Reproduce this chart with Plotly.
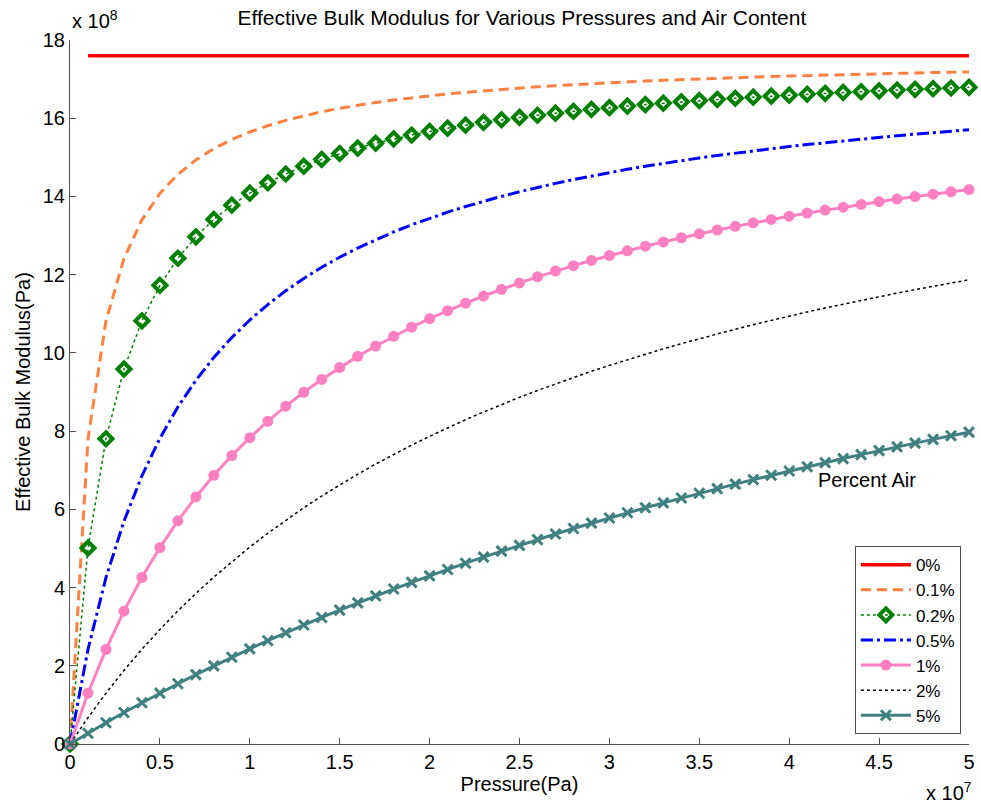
import plotly.graph_objects as go

# Pressure in units of 1e7 Pa
pressure = [0.0, 0.1, 0.2, 0.3, 0.4, 0.5, 0.6, 0.7, 0.8, 0.9,
            1.0, 1.1, 1.2, 1.3, 1.4, 1.5, 1.6, 1.7, 1.8, 1.9,
            2.0, 2.1, 2.2, 2.3, 2.4, 2.5, 2.6, 2.7, 2.8, 2.9,
            3.0, 3.1, 3.2, 3.3, 3.4, 3.5, 3.6, 3.7, 3.8, 3.9,
            4.0, 4.1, 4.2, 4.3, 4.4, 4.5, 4.6, 4.7, 4.8, 4.9, 5.0]

# Effective bulk modulus in units of 1e8 Pa
air_0 = [None] + [17.6] * 50
air_01 = [0, 7.801, 10.814, 12.411, 13.402, 14.075, 14.563, 14.933, 15.223, 15.456,
          15.648, 15.809, 15.946, 16.063, 16.165, 16.254, 16.333, 16.403, 16.467, 16.524,
          16.575, 16.622, 16.664, 16.704, 16.740, 16.774, 16.805, 16.833, 16.860, 16.885,
          16.908, 16.930, 16.951, 16.970, 16.989, 17.006, 17.023, 17.038, 17.053, 17.067,
          17.080, 17.093, 17.105, 17.117, 17.128, 17.139, 17.149, 17.158, 17.168, 17.176, 17.185]
air_02 = [0, 5.011, 7.804, 9.586, 10.820, 11.727, 12.420, 12.968, 13.412, 13.778,
          14.086, 14.349, 14.575, 14.772, 14.946, 15.099, 15.236, 15.359, 15.470, 15.571,
          15.662, 15.746, 15.823, 15.894, 15.960, 16.021, 16.077, 16.130, 16.179, 16.226,
          16.269, 16.310, 16.348, 16.384, 16.419, 16.451, 16.482, 16.511, 16.539, 16.565,
          16.590, 16.614, 16.637, 16.659, 16.680, 16.700, 16.719, 16.738, 16.756, 16.773, 16.789]
air_05 = [0, 2.417, 4.253, 5.695, 6.858, 7.815, 8.616, 9.298, 9.884, 10.393,
          10.840, 11.236, 11.588, 11.904, 12.189, 12.446, 12.681, 12.896, 13.093, 13.275,
          13.443, 13.598, 13.742, 13.877, 14.003, 14.120, 14.231, 14.334, 14.432, 14.524,
          14.612, 14.694, 14.772, 14.846, 14.917, 14.984, 15.048, 15.109, 15.167, 15.223,
          15.276, 15.327, 15.376, 15.423, 15.468, 15.511, 15.553, 15.593, 15.631, 15.668, 15.704]
air_1 = [0, 1.298, 2.419, 3.397, 4.259, 5.022, 5.705, 6.317, 6.871, 7.374,
         7.832, 8.252, 8.638, 8.993, 9.322, 9.628, 9.911, 10.176, 10.424, 10.656,
         10.874, 11.079, 11.272, 11.454, 11.626, 11.790, 11.944, 12.091, 12.231, 12.364,
         12.491, 12.611, 12.727, 12.838, 12.944, 13.045, 13.142, 13.235, 13.325, 13.411,
         13.494, 13.574, 13.651, 13.725, 13.796, 13.865, 13.932, 13.996, 14.059, 14.119, 14.177]
air_2 = [0, 0.674, 1.299, 1.880, 2.422, 2.929, 3.404, 3.850, 4.269, 4.664,
         5.037, 5.389, 5.723, 6.040, 6.340, 6.626, 6.898, 7.157, 7.405, 7.641,
         7.867, 8.083, 8.291, 8.489, 8.680, 8.863, 9.039, 9.209, 9.372, 9.529,
         9.680, 9.827, 9.968, 10.104, 10.236, 10.363, 10.486, 10.605, 10.721, 10.833,
         10.941, 11.047, 11.149, 11.248, 11.344, 11.438, 11.529, 11.618, 11.703, 11.787, 11.869]
air_5 = [0, 0.276, 0.544, 0.804, 1.056, 1.302, 1.540, 1.773, 1.998, 2.218,
         2.432, 2.641, 2.844, 3.042, 3.235, 3.424, 3.608, 3.787, 3.962, 4.133,
         4.300, 4.463, 4.623, 4.779, 4.931, 5.080, 5.226, 5.369, 5.509, 5.646,
         5.780, 5.911, 6.039, 6.165, 6.289, 6.410, 6.528, 6.644, 6.759, 6.870,
         6.980, 7.088, 7.194, 7.298, 7.399, 7.500, 7.598, 7.694, 7.789, 7.883, 7.974]

labels = ["0%", "0.1%", "0.2%", "0.5%", "1%", "2%", "5%"]
x_ticks = [0, 0.5, 1, 1.5, 2, 2.5, 3, 3.5, 4, 4.5, 5]
x_ticktext = ["0", "0.5", "1", "1.5", "2", "2.5", "3", "3.5", "4", "4.5", "5"]
y_ticks = [0, 2, 4, 6, 8, 10, 12, 14, 16, 18]

FONT = "Liberation Sans, Arial, sans-serif"
FS = 20
fig = go.Figure()

fig.add_trace(go.Scatter(x=pressure, y=air_0, name=labels[0], mode="lines",
                         line=dict(color="#FF0000", width=3.5)))
fig.add_trace(go.Scatter(x=pressure, y=air_01, name=labels[1], mode="lines",
                         line=dict(color="#FF8040", width=3, dash="10px,6px")))
fig.add_trace(go.Scatter(x=pressure, y=air_02, name=labels[2], mode="lines+markers",
                         line=dict(color="#008000", width=1.5, dash="dot"),
                         marker=dict(symbol="diamond-open", size=10, color="#008000",
                                     line=dict(width=4, color="#008000")),
                         cliponaxis=False))
fig.add_trace(go.Scatter(x=pressure, y=air_05, name=labels[3], mode="lines",
                         line=dict(color="#0000FF", width=3, dash="12px,4px,3px,4px")))
fig.add_trace(go.Scatter(x=pressure, y=air_1, name=labels[4], mode="lines+markers",
                         line=dict(color="#FF80C0", width=3),
                         marker=dict(symbol="circle", size=11, color="#FF80C0"),
                         cliponaxis=False))
fig.add_trace(go.Scatter(x=pressure, y=air_2, name=labels[5], mode="lines",
                         line=dict(color="#000000", width=1.5, dash="dot")))
fig.add_trace(go.Scatter(x=pressure, y=air_5, name=labels[6], mode="lines+markers",
                         line=dict(color="#408080", width=3),
                         marker=dict(symbol="x-thin", size=10, color="#408080",
                                     line=dict(width=3, color="#408080")),
                         cliponaxis=False))

axis_common = dict(showgrid=False, zeroline=False, showline=True, linecolor="#505050",
                   linewidth=1, ticks="inside", ticklen=6, tickcolor="#505050",
                   tickfont=dict(family=FONT, size=FS, color="black"))

fig.update_layout(
    width=981, height=805,
    paper_bgcolor="white", plot_bgcolor="white",
    margin=dict(l=70, r=6, t=40, b=61),
    title=dict(text="Effective Bulk Modulus for Various Pressures and Air Content",
               x=0.532, xanchor="center", y=0.978, yanchor="middle",
               font=dict(family=FONT, size=21, color="black")),
    xaxis=dict(range=[0, 5], tickvals=x_ticks, ticktext=x_ticktext,
               title=dict(text="Pressure(Pa)", font=dict(family=FONT, size=FS, color="black"),
                          standoff=4),
               **axis_common),
    yaxis=dict(range=[0, 18], tickvals=y_ticks,
               title=dict(text="Effective Bulk Modulus(Pa)", font=dict(family=FONT, size=FS, color="black"),
                          standoff=6),
               **axis_common),
    legend=dict(x=0.991, xanchor="right", y=0.014, yanchor="bottom",
                bgcolor="white", bordercolor="#505050", borderwidth=1,
                font=dict(family=FONT, size=17, color="black"),
                tracegroupgap=0, itemwidth=50),
    showlegend=True,
)

fig.add_annotation(text="x 10<sup>8</sup>", xref="paper", yref="paper", x=0, y=1,
                   xanchor="left", yanchor="bottom", showarrow=False, yshift=6,
                   font=dict(family=FONT, size=FS, color="black"))
fig.add_annotation(text="x 10<sup>7</sup>", xref="paper", yref="paper", x=1, y=0,
                   xanchor="right", yanchor="top", showarrow=False, yshift=-33, xshift=5,
                   font=dict(family=FONT, size=FS, color="black"))
fig.add_annotation(text="Percent Air", x=4.43, y=6.75, xref="x", yref="y",
                   showarrow=False, font=dict(family=FONT, size=FS, color="black"))

fig.write_html("out.html", config={"displayModeBar": False},
               post_script="document.body.style.margin='0px';")
